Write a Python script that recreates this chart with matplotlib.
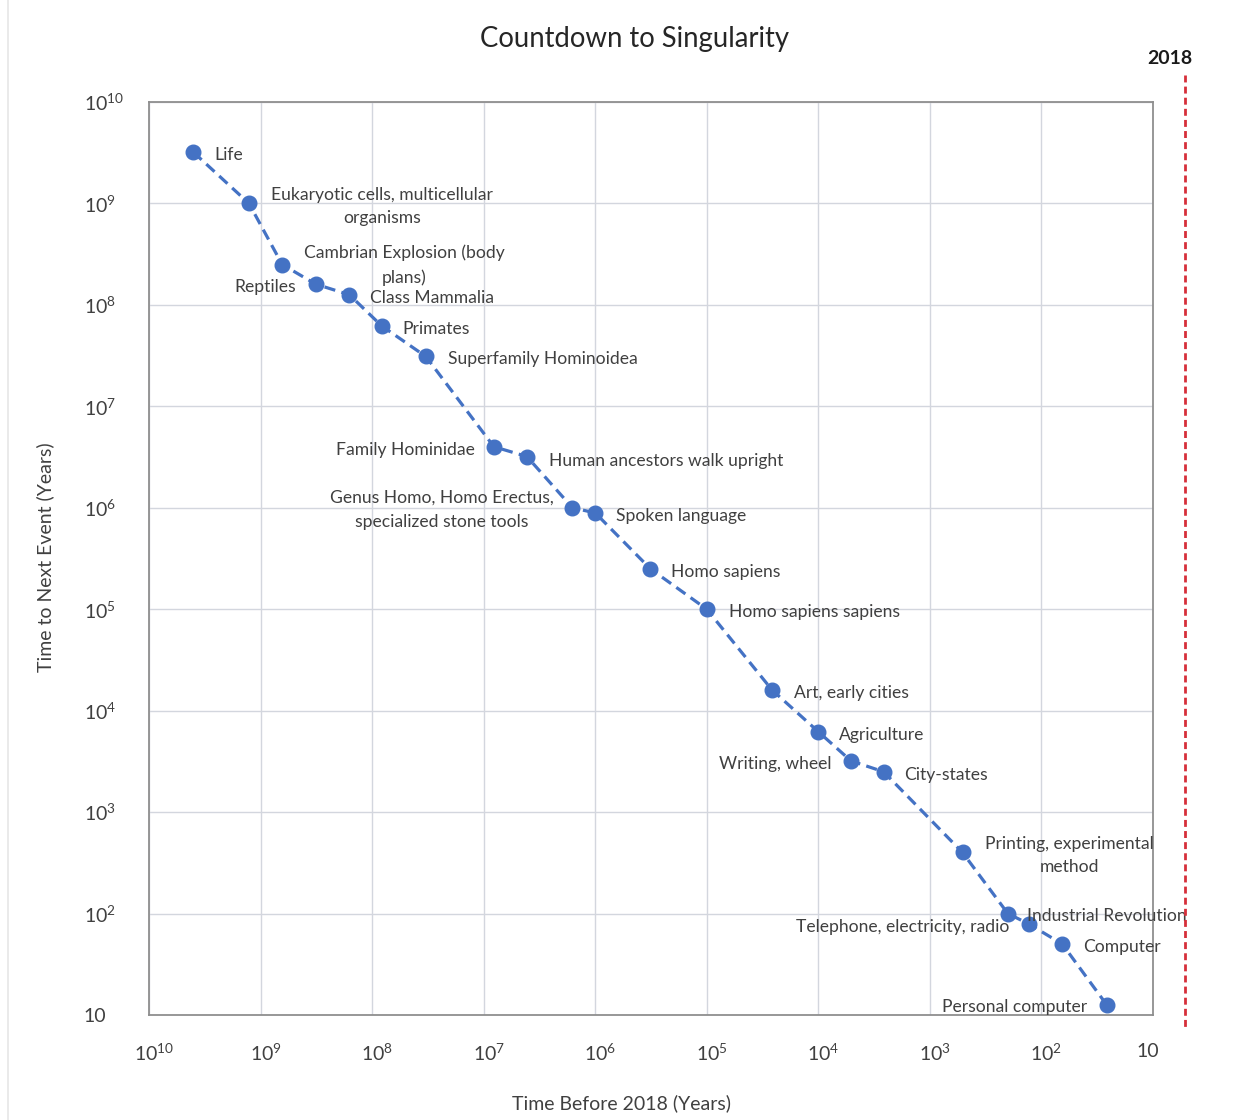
import matplotlib
matplotlib.use("Agg")
import matplotlib.pyplot as plt
from matplotlib.lines import Line2D
from matplotlib.transforms import ScaledTranslation

plt.rcParams['font.family'] = ['Lato', 'DejaVu Sans']
plt.rcParams['mathtext.fontset'] = 'custom'
plt.rcParams['mathtext.rm'] = 'Lato'
plt.rcParams['mathtext.it'] = 'Lato:italic'
plt.rcParams['mathtext.bf'] = 'Lato:bold'

# Events: years before 2018 and time until the next event
events = ["Life", "Eukaryotic cells, multicellular\norganisms",
          "Cambrian Explosion (body\nplans)", "Reptiles", "Class Mammalia",
          "Primates", "Superfamily Hominoidea", "Family Hominidae",
          "Human ancestors walk upright",
          "Genus Homo, Homo Erectus,\nspecialized stone tools",
          "Spoken language", "Homo sapiens", "Homo sapiens sapiens",
          "Art, early cities", "Agriculture", "Writing, wheel", "City-states",
          "Printing, experimental\nmethod", "Industrial Revolution",
          "Telephone, electricity, radio", "Computer", "Personal computer"]
years_before = [4.0e9, 1.27e9, 6.4e8, 3.2e8, 1.6e8, 8.2e7, 3.3e7, 8.1e6, 4.1e6,
                1.6e6, 1.0e6, 3.2e5, 1.0e5, 2.6e4, 1.0e4, 5.1e3, 2.6e3, 510,
                200, 130, 65, 26]
time_to_next = [3.2e9, 1.0e9, 2.5e8, 1.6e8, 1.26e8, 6.2e7, 3.1e7, 4.0e6, 3.2e6,
                1.0e6, 8.9e5, 2.5e5, 1.0e5, 1.6e4, 6.2e3, 3.2e3, 2.5e3, 400,
                100, 79, 50, 12.6]

# label placement: (dx, dy) in pixels (dy downward), horizontal alignment
label_pos = [(21, 3, 'left'), (133, 3, 'center'), (122, 1, 'center'),
             (-20, 3, 'right'), (21, 3, 'left'), (21, 3, 'left'),
             (22, 3, 'left'), (-19, 3, 'right'), (22, 4, 'left'),
             (-19, 2, 'right'), (21, 3, 'left'), (21, 3, 'left'),
             (22, 3, 'left'), (22, 3, 'left'), (21, 3, 'left'),
             (-19, 3, 'right'), (21, 3, 'left'), (107, 3, 'center'),
             (19, 2, 'left'), (-19, 3, 'right'), (21, 3, 'left'),
             (-20, 2, 'right')]

decades = [1e10, 1e9, 1e8, 1e7, 1e6, 1e5, 1e4, 1e3, 1e2, 1e1]
decade_labels = [r'$\mathregular{10^{10}}$', r'$\mathregular{10^{9}}$',
                 r'$\mathregular{10^{8}}$', r'$\mathregular{10^{7}}$',
                 r'$\mathregular{10^{6}}$', r'$\mathregular{10^{5}}$',
                 r'$\mathregular{10^{4}}$', r'$\mathregular{10^{3}}$',
                 r'$\mathregular{10^{2}}$', '10']

blue = '#4472C4'
text_col = '#404040'

fig = plt.figure(figsize=(12.5, 11.2), dpi=100)
ax = fig.add_axes([149 / 1250, 1 - 1015 / 1120, 1004 / 1250, 913 / 1120])

ax.set_xscale('log')
ax.set_yscale('log')
ax.set_xlim(1e10, 10)
ax.set_ylim(10, 1e10)

ax.plot(years_before, time_to_next, color=blue, lw=2.3, ls=(0, (3.5, 2.0)),
        marker='o', ms=10.5, mfc=blue, mec=blue, zorder=3)

for name, x, y, (dx, dy, ha) in zip(events, years_before, time_to_next, label_pos):
    ax.annotate(name, (x, y), xytext=(dx, -dy), textcoords='offset pixels',
                ha=ha, va='center', multialignment='center', linespacing=1.6,
                fontsize=12.6, color=text_col, zorder=4)

ax.set_xticks(decades)
ax.set_xticklabels(decade_labels)
ax.set_yticks(decades)
ax.set_yticklabels(decade_labels)
ax.minorticks_off()
ax.tick_params(axis='both', length=0, labelsize=14, labelcolor=text_col)
ax.tick_params(axis='x', pad=20)
ax.tick_params(axis='y', pad=47)
for lab in ax.get_yticklabels():
    lab.set_horizontalalignment('left')
for lab in ax.get_xticklabels():
    shift = -5 if lab.get_text() == '10' else 5
    lab.set_transform(lab.get_transform() +
                      ScaledTranslation(shift / 100, 0, fig.dpi_scale_trans))

ax.grid(True, color='#d3d6de', lw=1.0)
ax.set_axisbelow(True)
for sp in ax.spines.values():
    sp.set_color('#8f8f8f')
    sp.set_linewidth(1.3)

fig.text(621 / 1250, 1 - 1103 / 1120, 'Time Before 2018 (Years)', ha='center',
         va='center', fontsize=14, color=text_col)
fig.text(45 / 1250, 1 - 557 / 1120, 'Time to Next Event (Years)', ha='center',
         va='center', rotation=90, fontsize=14, color=text_col)
fig.text(634 / 1250, 1 - 39 / 1120, 'Countdown to Singularity', ha='center',
         va='center', fontsize=19.8, color='#262626')

# present-day marker
fig.add_artist(Line2D([1185 / 1250, 1185 / 1250], [1 - 75 / 1120, 1 - 1030 / 1120],
                      color='#d62f3a', lw=2.0, ls=(0, (2.5, 1.5))))
fig.text(1170 / 1250, 1 - 59 / 1120, '2018', ha='center', va='center',
         fontsize=14, fontweight='bold', color='#1a1a1a')

# left page edge
fig.add_artist(Line2D([8 / 1250, 8 / 1250], [0, 1], color='#e6e6e6', lw=1.2))

fig.savefig('out.png', dpi=100, facecolor='white')
